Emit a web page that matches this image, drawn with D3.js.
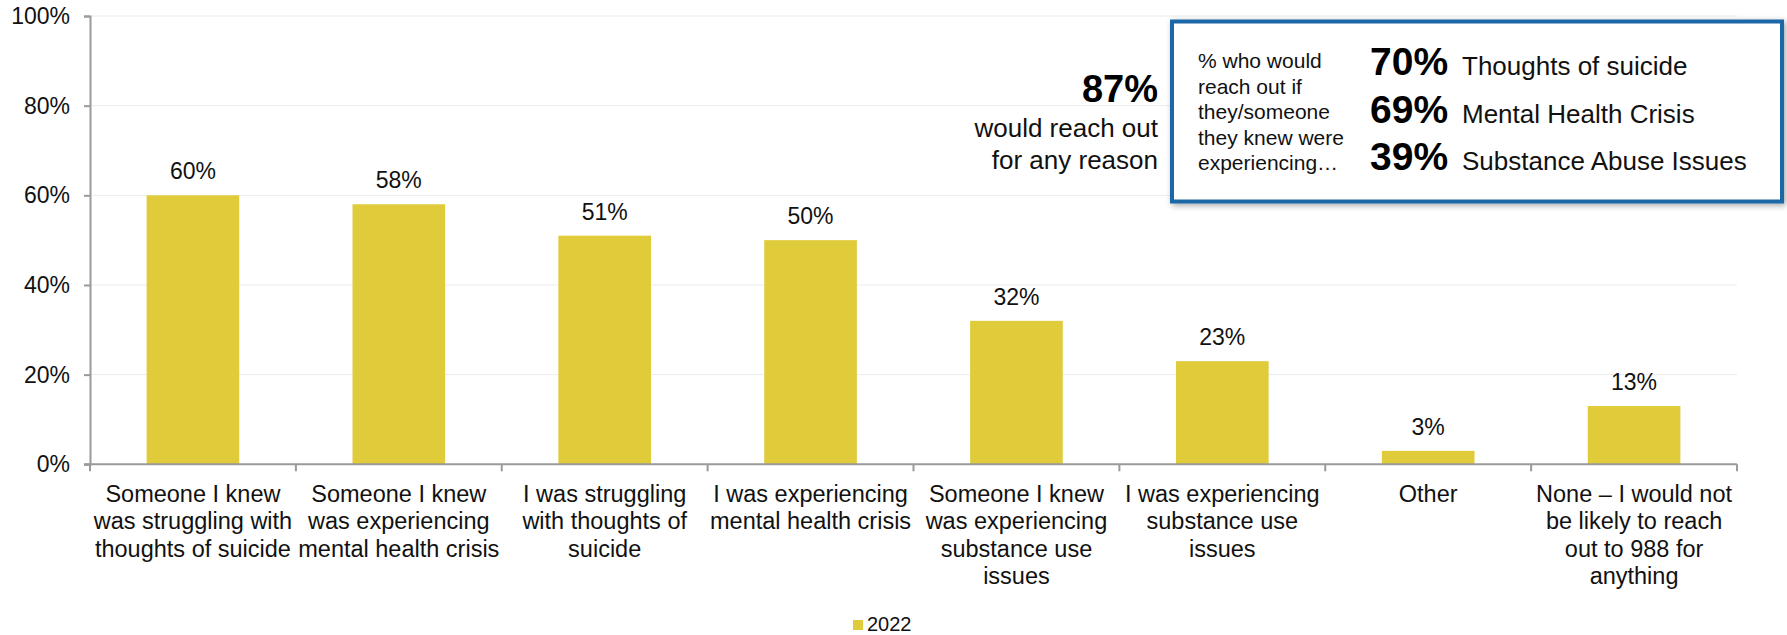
<!DOCTYPE html>
<html><head><meta charset="utf-8">
<script src="https://cdn.jsdelivr.net/npm/d3@7"></script>
<style>
html,body{margin:0;padding:0;background:#fff;}
svg{display:block;font-family:"Liberation Sans",Arial,sans-serif;}
</style></head>
<body><svg id="c" width="1787" height="635"></svg>
<script>
const categories = [
  "Someone I knew\nwas struggling with\nthoughts of suicide",
  "Someone I knew\nwas experiencing\nmental health crisis",
  "I was struggling\nwith thoughts of\nsuicide",
  "I was experiencing\nmental health crisis",
  "Someone I knew\nwas experiencing\nsubstance use\nissues",
  "I was experiencing\nsubstance use\nissues",
  "Other",
  "None \u2013 I would not\nbe likely to reach\nout to 988 for\nanything"
];
const values2022 = [60, 58, 51, 50, 32, 23, 3, 13];
const yTicks = [0, 20, 40, 60, 80, 100];
const seriesName = "2022";
const calloutTotal = "87%";
const calloutTotalText = ["would reach out", "for any reason"];
const boxIntro = ["% who would", "reach out if", "they/someone", "they knew were", "experiencing\u2026"];
const boxPcts = ["70%", "69%", "39%"];
const boxLabels = ["Thoughts of suicide", "Mental Health Crisis", "Substance Abuse Issues"];

(function () {
const svg = d3.select("#c");
const pLeft = 90, pRight = 1737, pTop = 16, pBottom = 464.3;
const barColor = "#e0cb3a";
const axisColor = "#9a9a9a";

const x = d3.scaleBand().domain(d3.range(categories.length)).range([pLeft, pRight]).paddingInner(0.55).paddingOuter(0.275);
const xb = d3.scaleBand().domain(d3.range(categories.length)).range([pLeft, pRight]);
const y = d3.scaleLinear().domain([0, 100]).range([pBottom, pTop]);

// gridlines
svg.append("g").selectAll("line").data(yTicks.filter(d => d > 0)).join("line")
  .attr("x1", pLeft).attr("x2", pRight)
  .attr("y1", d => y(d)).attr("y2", d => y(d))
  .attr("stroke", "#ececec").attr("stroke-width", 1);

// y axis
const yAxis = svg.append("g").attr("transform", `translate(${pLeft},0)`)
  .call(d3.axisLeft(y).tickValues(yTicks).tickFormat(d => d + "%").tickSize(6).tickPadding(14));
yAxis.select(".domain").attr("stroke", axisColor).attr("stroke-width", 2);
yAxis.selectAll(".tick line").attr("stroke", axisColor).attr("stroke-width", 2);
yAxis.selectAll(".tick text").attr("font-size", 23).attr("fill", "#111").attr("font-family", "Liberation Sans, Arial, sans-serif");

// bars
svg.append("g").selectAll("rect").data(values2022).join("rect")
  .attr("x", (d, i) => x(i)).attr("width", x.bandwidth())
  .attr("y", d => y(d)).attr("height", d => y(0) - y(d))
  .attr("fill", barColor);

// data labels
svg.append("g").selectAll("text").data(values2022).join("text")
  .attr("x", (d, i) => x(i) + x.bandwidth() / 2)
  .attr("y", d => y(d) - 16)
  .attr("text-anchor", "middle").attr("font-size", 23).attr("fill", "#111")
  .text(d => d + "%");

// x axis
const xAxisG = svg.append("g").attr("transform", `translate(0,${pBottom})`);
xAxisG.append("line").attr("x1", pLeft - 6).attr("x2", pRight).attr("y1", 0).attr("y2", 0)
  .attr("stroke", axisColor).attr("stroke-width", 2);
xAxisG.selectAll("line.tk").data(d3.range(categories.length + 1)).join("line").attr("class", "tk")
  .attr("x1", i => i < categories.length ? xb(i) : pRight)
  .attr("x2", i => i < categories.length ? xb(i) : pRight)
  .attr("y1", 0).attr("y2", 7).attr("stroke", axisColor).attr("stroke-width", 2);

// category labels
const catG = svg.append("g");
categories.forEach((c, i) => {
  const cx = xb(i) + xb.bandwidth() / 2;
  const t = catG.append("text").attr("text-anchor", "middle").attr("font-size", 23.5).attr("fill", "#111")
    .attr("x", cx).attr("y", 501.5);
  c.split("\n").forEach((ln, j) => {
    t.append("tspan").attr("x", cx).attr("y", 501.5 + j * 27.5).text(ln);
  });
});

// legend
const leg = svg.append("g");
leg.append("rect").attr("x", 853).attr("y", 620).attr("width", 10).attr("height", 10).attr("fill", barColor);
leg.append("text").attr("x", 867).attr("y", 631).attr("font-size", 20).attr("fill", "#111").text(seriesName);

// 87% callout
svg.append("text").attr("x", 1158).attr("y", 101.5).attr("text-anchor", "end")
  .attr("font-size", 38).attr("font-weight", "bold").attr("fill", "#000").text(calloutTotal);
calloutTotalText.forEach((t, j) => {
  svg.append("text").attr("x", 1158).attr("y", 137 + j * 31.5).attr("text-anchor", "end")
    .attr("font-size", 26).attr("fill", "#111").text(t);
});

// box
const defs = svg.append("defs");
const f = defs.append("filter").attr("id", "sh").attr("x", "-10%").attr("y", "-20%").attr("width", "120%").attr("height", "140%");
f.append("feDropShadow").attr("dx", 2).attr("dy", 2).attr("stdDeviation", 3).attr("flood-color", "#000").attr("flood-opacity", 0.35);
svg.append("rect").attr("x", 1172).attr("y", 21.5).attr("width", 610).attr("height", 180)
  .attr("fill", "#fff").attr("stroke", "#1b67a7").attr("stroke-width", 4).attr("filter", "url(#sh)");
boxIntro.forEach((t, j) => {
  svg.append("text").attr("x", 1198).attr("y", 68 + j * 25.5).attr("font-size", 21).attr("fill", "#111").text(t);
});
boxPcts.forEach((p, j) => {
  svg.append("text").attr("x", 1370).attr("y", 75 + j * 47.5).attr("font-size", 39).attr("font-weight", "bold").attr("fill", "#000").text(p);
  svg.append("text").attr("x", 1462).attr("y", 75 + j * 47.5).attr("font-size", 26).attr("fill", "#111").text(boxLabels[j]);
});
})();
</script></body></html>
